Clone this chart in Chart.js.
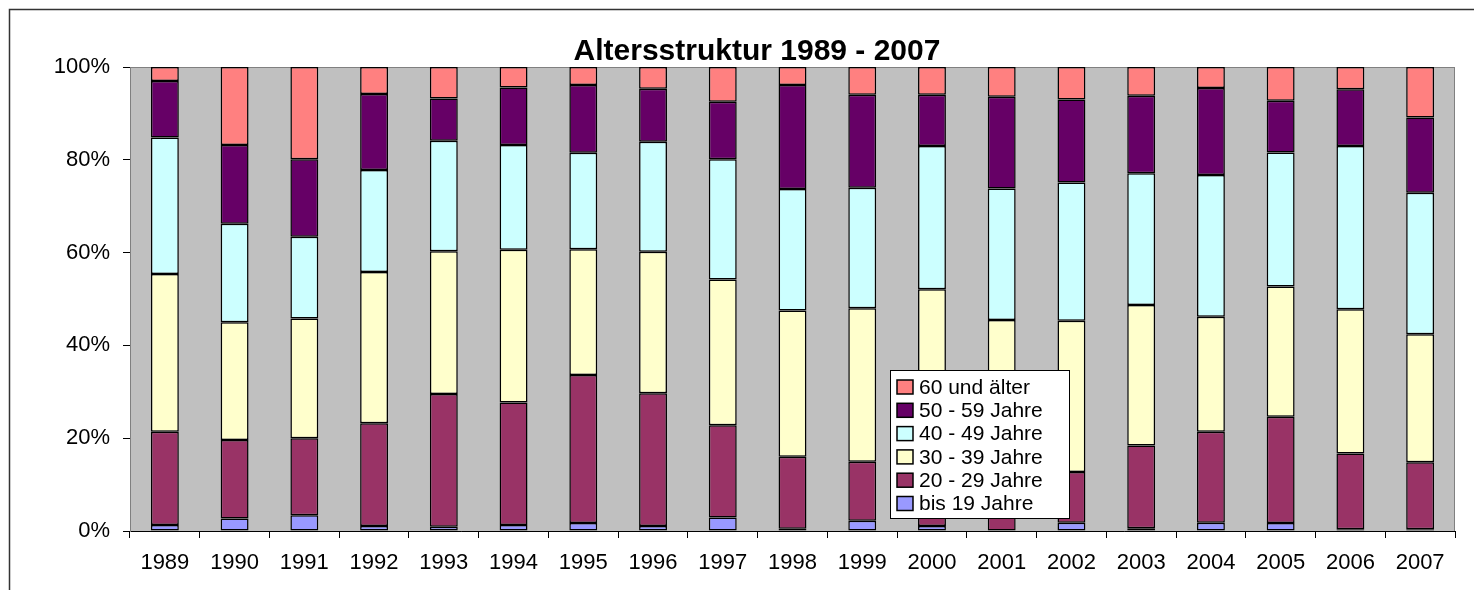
<!DOCTYPE html>
<html>
<head>
<meta charset="utf-8">
<script src="https://cdn.jsdelivr.net/npm/chart.js@4/dist/chart.umd.min.js"></script>
<style>
  body { margin: 0; background: #fff; }
  #wrap { width: 1474px; height: 590px; }
</style>
</head>
<body>
<div id="wrap"><canvas id="chart" width="1474" height="590"></canvas></div>
<script>
// years on the x axis
const years = ["1989", "1990", "1991", "1992", "1993", "1994", "1995", "1996", "1997", "1998",
  "1999", "2000", "2001", "2002", "2003", "2004", "2005", "2006", "2007"];

// share of each age group per year, in percent
const bis19 = [1.3, 2.7, 3.4, 1.1, 0.9, 1.3, 1.7, 1.1, 2.9, 0.5, 2.2, 1.1, 0.0, 1.8, 0.6, 1.8, 1.7, 0.4, 0.4];
const j20 = [20.1, 16.9, 16.6, 22.1, 28.6, 26.4, 31.9, 28.6, 19.9, 15.5, 12.7, 12.9, 13.0, 10.9, 17.8, 19.6, 22.9, 16.3, 14.4];
const j30 = [34.0, 25.4, 25.8, 32.6, 30.8, 32.9, 27.1, 30.5, 31.4, 31.5, 33.1, 38.1, 32.5, 32.6, 30.3, 24.8, 28.1, 31.1, 27.6];
const j40 = [29.4, 21.2, 17.6, 22.0, 23.8, 22.6, 20.8, 23.7, 25.9, 26.2, 26.0, 30.9, 28.3, 29.8, 28.4, 30.5, 28.9, 35.2, 30.5];
const j50 = [12.2, 17.0, 16.7, 16.4, 9.1, 12.4, 14.6, 11.4, 12.4, 22.4, 20.0, 11.0, 19.8, 17.9, 16.7, 18.8, 11.1, 12.2, 16.2];
const j60 = [3.0, 16.8, 19.9, 5.8, 6.8, 4.4, 3.9, 4.7, 7.5, 3.9, 6.0, 6.0, 6.4, 7.0, 6.2, 4.5, 7.3, 4.8, 10.9];

const yTicks = [0, 20, 40, 60, 80, 100];

const FONT = "'Liberation Sans', Arial, sans-serif";

const series = [
  { label: "bis 19 Jahre", data: bis19, color: "#9999FF" },
  { label: "20 - 29 Jahre", data: j20, color: "#993366" },
  { label: "30 - 39 Jahre", data: j30, color: "#FFFFCC" },
  { label: "40 - 49 Jahre", data: j40, color: "#CCFFFF" },
  { label: "50 - 59 Jahre", data: j50, color: "#660066" },
  { label: "60 und älter", data: j60, color: "#FF8080" },
];

// background, frame and plot area
const backdrop = {
  id: "backdrop",
  beforeDraw(chart) {
    const { ctx, chartArea: a } = chart;
    ctx.save();
    ctx.fillStyle = "#fff";
    ctx.fillRect(0, 0, chart.width, chart.height);
    ctx.strokeStyle = "#333";
    ctx.lineWidth = 1.5;
    ctx.beginPath();
    ctx.moveTo(9.5, chart.height);
    ctx.lineTo(9.5, 9.5);
    ctx.lineTo(chart.width, 9.5);
    ctx.stroke();
    ctx.fillStyle = "#C0C0C0";
    ctx.fillRect(a.left, a.top, a.right - a.left, a.bottom - a.top);
    ctx.strokeStyle = "#808080";
    ctx.lineWidth = 1;
    ctx.strokeRect(a.left + 0.5, a.top + 0.5, a.right - a.left - 1, a.bottom - a.top);
    ctx.restore();
  },
  afterDraw(chart) {
    const ctx = chart.ctx;
    ctx.save();
    // title
    ctx.fillStyle = "#000";
    ctx.font = "bold 30px " + FONT;
    ctx.textAlign = "center";
    ctx.textBaseline = "alphabetic";
    ctx.fillText("Altersstruktur 1989 - 2007", 757, 60);

    // legend, top entry is the last dataset
    const x0 = 890, y0 = 370, w = 179, h = 148;
    ctx.fillStyle = "#fff";
    ctx.fillRect(x0, y0, w, h);
    ctx.strokeStyle = "#000";
    ctx.lineWidth = 1;
    ctx.strokeRect(x0 + 0.5, y0 + 0.5, w, h);
    ctx.font = "21px " + FONT;
    ctx.textAlign = "left";
    ctx.textBaseline = "middle";
    const ds = chart.data.datasets.slice().reverse();
    ds.forEach((d, i) => {
      const cy = 387 + i * 23.3;
      ctx.fillStyle = d.backgroundColor;
      ctx.fillRect(897, cy - 7, 16, 14);
      ctx.lineWidth = 1.5;
      ctx.strokeStyle = "#000";
      ctx.strokeRect(897, cy - 7, 16, 14);
      ctx.fillStyle = "#000";
      ctx.fillText(d.label, 919, cy + 1);
    });
    ctx.restore();
  }
};

new Chart(document.getElementById("chart"), {
  type: "bar",
  data: {
    labels: years,
    datasets: series.map(s => ({
      label: s.label,
      data: s.data,
      backgroundColor: s.color,
      borderColor: "#000",
      borderWidth: 1.5,
      borderSkipped: false,
      barPercentage: 0.4,
      categoryPercentage: 1.0,
    })),
  },
  options: {
    responsive: false,
    animation: false,
    layout: { padding: { left: 0, right: 19, top: 67, bottom: 0 } },
    plugins: {
      legend: { display: false },
      title: { display: false },
      tooltip: { enabled: false },
    },
    scales: {
      x: {
        stacked: true,
        grid: { display: true, drawOnChartArea: false, offset: true, color: "#000", tickLength: 7 },
        border: { display: true, color: "#000", width: 1 },
        ticks: { color: "#000", font: { family: FONT, size: 22 }, padding: 12, maxRotation: 0, autoSkip: false },
        afterFit(scale) { scale.height = 59; },
      },
      y: {
        stacked: true,
        min: 0,
        max: 100,
        afterBuildTicks(scale) { scale.ticks = yTicks.map(v => ({ value: v })); },
        grid: { display: true, drawOnChartArea: false, color: "#000", tickLength: 7 },
        border: { display: true, color: "#808080", width: 1 },
        ticks: {
          color: "#000",
          font: { family: FONT, size: 22 },
          padding: 13,
          callback: v => v + "%",
        },
        afterFit(scale) { scale.width = 130; },
      },
    },
  },
  plugins: [backdrop],
});
</script>
</body>
</html>
